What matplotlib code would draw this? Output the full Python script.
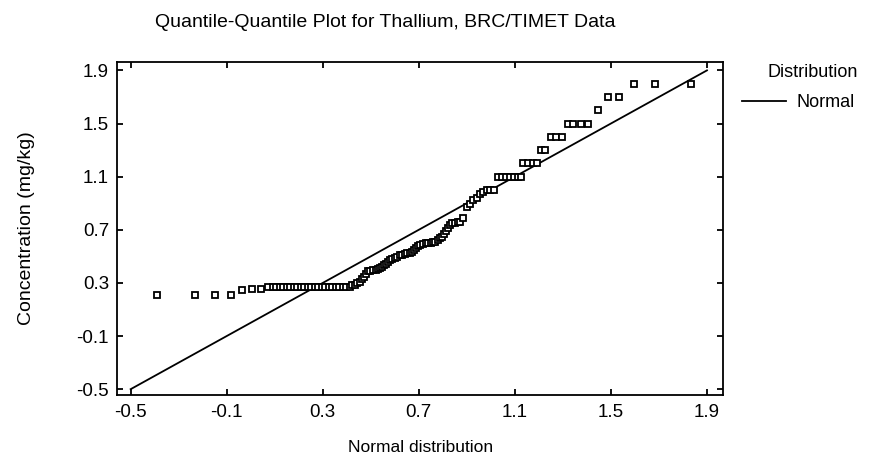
import matplotlib
matplotlib.use("Agg")
import matplotlib.pyplot as plt

# ---- data ----
# theoretical normal quantiles (x) and sorted thallium concentrations (y)
normal_q = [
    -0.39, -0.233, -0.15, -0.083, -0.038, 0.004, 0.042, 0.071,
    0.092, 0.106, 0.121, 0.135, 0.150, 0.165, 0.179, 0.194, 0.208, 0.223,
    0.238, 0.252, 0.267, 0.281, 0.296, 0.310, 0.325, 0.340, 0.354, 0.369,
    0.383, 0.398, 0.413,
    0.421, 0.433, 0.442, 0.454, 0.463, 0.471, 0.479, 0.488, 0.496, 0.508,
    0.521, 0.529, 0.538, 0.546, 0.554, 0.563, 0.571, 0.579, 0.588, 0.600,
    0.608, 0.621, 0.629, 0.642, 0.650, 0.663, 0.671, 0.679, 0.688, 0.696,
    0.704, 0.717, 0.729, 0.738, 0.750, 0.758, 0.767, 0.779, 0.788, 0.796,
    0.804, 0.813, 0.821, 0.829, 0.838, 0.850, 0.863, 0.871, 0.883,
    0.900, 0.913, 0.925, 0.942, 0.954, 0.967,
    0.983, 0.998, 1.013,
    1.029, 1.046, 1.063, 1.079, 1.096, 1.113, 1.125,
    1.133, 1.154, 1.175, 1.192,
    1.208, 1.225,
    1.250, 1.271, 1.296,
    1.321, 1.342, 1.375, 1.404,
    1.446,
    1.488, 1.533,
    1.596, 1.683, 1.833,
]
concentration = [
    0.21, 0.21, 0.21, 0.21, 0.244, 0.255, 0.255, 0.27,
    0.27, 0.27, 0.27, 0.27, 0.27, 0.27, 0.27, 0.27, 0.27, 0.27,
    0.27, 0.27, 0.27, 0.27, 0.27, 0.27, 0.27, 0.27, 0.27, 0.27,
    0.27, 0.27, 0.27,
    0.281, 0.285, 0.300, 0.310, 0.330, 0.345, 0.368, 0.387, 0.393, 0.394,
    0.398, 0.405, 0.413, 0.420, 0.432, 0.443, 0.458, 0.469, 0.477, 0.488,
    0.496, 0.507, 0.511, 0.518, 0.522, 0.526, 0.533, 0.545, 0.563, 0.575,
    0.586, 0.593, 0.599, 0.601, 0.603, 0.606, 0.611, 0.624, 0.635, 0.648,
    0.669, 0.691, 0.714, 0.736, 0.751, 0.754, 0.759, 0.761, 0.789,
    0.874, 0.894, 0.921, 0.943, 0.966, 0.987,
    1.0, 1.0, 1.0,
    1.1, 1.1, 1.1, 1.1, 1.1, 1.1, 1.1,
    1.2, 1.2, 1.2, 1.2,
    1.3, 1.3,
    1.4, 1.4, 1.4,
    1.5, 1.5, 1.5, 1.5,
    1.6,
    1.7, 1.7,
    1.8, 1.8, 1.8,
]

# fitted normal reference line
ref_x = [-0.5, 1.9]
ref_y = [-0.5, 1.9]

ticks = [-0.5, -0.1, 0.3, 0.7, 1.1, 1.5, 1.9]
tick_labels = ["-0.5", "-0.1", "0.3", "0.7", "1.1", "1.5", "1.9"]

# ---- style ----
plt.rcParams.update({
    "font.family": ["Liberation Sans", "DejaVu Sans"],
    "font.size": 13,
    "axes.linewidth": 1.3,
})

fig = plt.figure(figsize=(8.79, 4.66), dpi=100)
ax = fig.add_axes([0.1336, 0.152, 0.6890, 0.7155])

ax.plot(ref_x, ref_y, color="black", lw=1.3, label="Normal")
ax.plot(normal_q, concentration, ls="none", marker="s", ms=4.0,
        mfc="white", mec="black", mew=1.3)

ax.set_xlim(-0.555, 1.967)
ax.set_ylim(-0.545, 1.965)
ax.set_xticks(ticks)
ax.set_xticklabels(tick_labels)
ax.set_yticks(ticks)
ax.set_yticklabels(tick_labels)
ax.tick_params(direction="in", length=4, width=1.3, top=True, right=True,
               labelsize=13.5, pad=6, colors="black")

ax.set_xlabel("Normal distribution", fontsize=12.5, labelpad=14)
ax.set_ylabel("Concentration (mg/kg)", fontsize=14, labelpad=30)
fig.text(0.438, 0.952, "Quantile-Quantile Plot for Thallium, BRC/TIMET Data",
         ha="center", va="center", fontsize=14)

# legend drawn as in the original: heading, then line sample
fig.text(0.924, 0.845, "Distribution", ha="center", va="center", fontsize=13)
ax.legend(loc="upper left", bbox_to_anchor=(1.02, 0.925), frameon=False,
          handlelength=2.4, handletextpad=0.6, fontsize=13, borderaxespad=0)

fig.savefig("out.png", dpi=100)
